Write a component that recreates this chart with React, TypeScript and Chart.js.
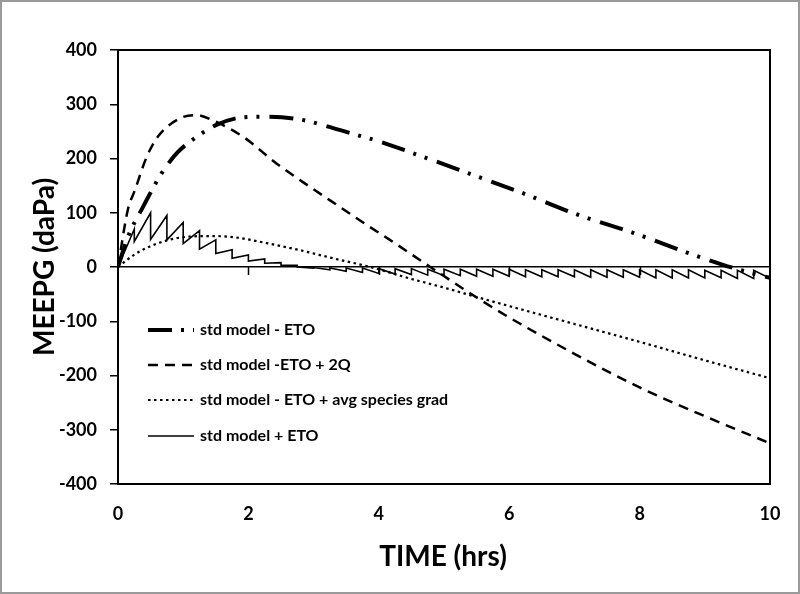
import React, { useEffect, useRef } from 'react';
import { Chart, registerables } from 'chart.js';

Chart.register(...registerables);

// ---- data ----
const X_MIN = 0;
const X_MAX = 10;
const X_STEP = 2;
const Y_MIN = -400;
const Y_MAX = 400;
const Y_STEP = 100;

const LABELS = [
  'std model - ETO',
  'std model -ETO + 2Q',
  'std model - ETO + avg species grad',
  'std model + ETO',
];

// std model - ETO (dash-dot-dot)
const etoX = [0, 0.15, 0.38, 0.67, 0.92, 1.21, 1.51, 1.92, 2.23, 2.79, 3.3, 3.76, 4.02, 4.52, 5.37, 6.21, 7.06, 7.9, 8.74, 9.28, 9.65, 10];
const etoY = [0, 55, 110, 173, 212, 240, 262, 276, 277, 272, 256, 240, 231, 210, 173, 136, 96, 63, 26, 4, -9, -20];

// std model -ETO + 2Q (dashed)
const q2X = [0, 0.15, 0.26, 0.44, 0.61, 0.95, 1.2, 1.46, 1.92, 2.43, 2.94, 3.4, 3.86, 4.17, 4.79, 5.55, 6, 7, 8, 9, 10];
const q2Y = [0, 105, 142, 203, 240, 274, 280, 270, 240, 191, 148, 111, 74, 50, 0, -60, -93, -160, -222, -275, -325];

// std model - ETO + avg species grad (dotted)
const gradX = [0, 0.24, 0.49, 0.75, 1.0, 1.41, 1.77, 2.28, 2.79, 3.3, 3.87, 4.5, 5.0, 5.55, 6, 7, 8, 9, 10];
const gradY = [0, 22, 38, 49, 55, 57, 55, 44, 31, 16, 0, -22, -38, -57, -72, -105, -138, -172, -205];

// std model + ETO (solid sawtooth): value just before and just after each step
const sawT = [0, 0.25, 0.5, 0.75, 1.0, 1.25, 1.5, 1.75, 2.0, 2.25, 2.5, 2.75, 3.0, 3.25, 3.5, 3.75, 4.0, 4.25, 4.5, 4.75, 5.0, 5.25, 5.5, 5.75, 6.0, 6.25, 6.5, 6.75, 7.0, 7.25, 7.5, 7.75, 8.0, 8.25, 8.5, 8.75, 9.0, 9.25, 9.5, 9.75, 10.0];
const sawBefore = [0, 70, 100, 95, 82, 67, 50, 32, 22, 15, 8, 3, -2, -5, -8, -10, -12, -13, -14, -15, -16, -16, -17, -17, -17, -18, -18, -18, -18, -19, -19, -19, -19, -20, -20, -20, -20, -20, -21, -21, -21];
const sawAfter = [0, 47, 51, 50, 43, 33, 25, 16, 11, 7, 3, 0, -1, -2, -2, -2, -3, -3, -3, -4, -4, -4, -4, -4, -4, -5, -5, -5, -5, -5, -5, -5, -5, -5, -5, -5, -6, -6, -6, -6, -21];

const FONT = 'Lato, "Open Sans", sans-serif';

function pts(xs: number[], ys: number[]) {
  return xs.map((x, i) => ({ x, y: ys[i] }));
}

function sawPts() {
  const out: { x: number; y: number }[] = [];
  sawT.forEach((t, i) => {
    out.push({ x: t, y: sawBefore[i] });
    if (sawAfter[i] !== sawBefore[i]) out.push({ x: t, y: sawAfter[i] });
  });
  return out;
}

const framePlugin = {
  id: 'frame',
  beforeDraw(chart: any) {
    const { ctx, width, height } = chart;
    ctx.save();
    ctx.fillStyle = '#ffffff';
    ctx.fillRect(0, 0, width, height);
    ctx.strokeStyle = '#9a9a9a';
    ctx.lineWidth = 2;
    ctx.strokeRect(1, 1, width - 2, height - 2);
    ctx.restore();
  },
  afterDatasetsDraw(chart: any) {
    const { ctx, chartArea } = chart;
    const xs = chart.scales.x;
    const ys = chart.scales.y;
    const y0 = ys.getPixelForValue(0);
    ctx.save();
    // tick marks on the zero line
    ctx.strokeStyle = '#000';
    ctx.lineWidth = 1.5;
    for (let v = X_MIN + X_STEP; v < X_MAX; v += X_STEP) {
      const px = Math.round(xs.getPixelForValue(v)) + 0.5;
      ctx.beginPath();
      ctx.moveTo(px, y0);
      ctx.lineTo(px, y0 + 8);
      ctx.stroke();
    }
    // plot frame
    ctx.lineWidth = 2;
    ctx.strokeRect(chartArea.left, chartArea.top, chartArea.right - chartArea.left, chartArea.bottom - chartArea.top);

    // legend
    const rows = [330, 365, 400, 436];
    chart.data.datasets.forEach((ds: any, i: number) => {
      const y = rows[i];
      ctx.save();
      ctx.strokeStyle = ds.borderColor;
      ctx.lineWidth = ds.borderWidth;
      ctx.setLineDash(ds.borderDash || []);
      ctx.beginPath();
      ctx.moveTo(148, y);
      ctx.lineTo(194, y);
      ctx.stroke();
      ctx.restore();
      ctx.fillStyle = '#000';
      ctx.font = `bold 16px ${FONT}`;
      ctx.textAlign = 'left';
      ctx.textBaseline = 'middle';
      ctx.fillText(ds.label, 200, y);
    });

    // axis titles
    ctx.fillStyle = '#000';
    ctx.font = `bold 28px ${FONT}`;
    ctx.textAlign = 'center';
    ctx.textBaseline = 'middle';
    ctx.fillText('TIME (hrs)', 443, 557);
    ctx.translate(45, 267);
    ctx.rotate(-Math.PI / 2);
    ctx.fillText('MEEPG (daPa)', 0, 0);
    ctx.restore();
  },
};

export default function App() {
  const ref = useRef<HTMLCanvasElement | null>(null);

  useEffect(() => {
    if (!ref.current) return;
    const chart = new Chart(ref.current, {
      type: 'line',
      data: {
        datasets: [
          {
            label: LABELS[0],
            data: pts(etoX, etoY),
            borderColor: '#000',
            borderWidth: 4,
            borderDash: [24, 9, 3, 9, 3, 10],
            pointRadius: 0,
            cubicInterpolationMode: 'monotone',
            fill: false,
          },
          {
            label: LABELS[1],
            data: pts(q2X, q2Y),
            borderColor: '#000',
            borderWidth: 2.5,
            borderDash: [10, 7],
            pointRadius: 0,
            cubicInterpolationMode: 'monotone',
            fill: false,
          },
          {
            label: LABELS[2],
            data: pts(gradX, gradY),
            borderColor: '#000',
            borderWidth: 2.2,
            borderDash: [2.5, 3.5],
            pointRadius: 0,
            cubicInterpolationMode: 'monotone',
            fill: false,
          },
          {
            label: LABELS[3],
            data: sawPts(),
            borderColor: '#000',
            borderWidth: 1.6,
            pointRadius: 0,
            tension: 0,
            fill: false,
          },
        ],
      },
      options: {
        responsive: false,
        animation: false,
        devicePixelRatio: 1,
        layout: { padding: { top: 50, right: 30, left: 0, bottom: 0 } },
        plugins: {
          legend: { display: false },
          tooltip: { enabled: false },
        },
        scales: {
          x: {
            type: 'linear',
            min: X_MIN,
            max: X_MAX,
            afterFit: (s: any) => { s.height = 110; },
            ticks: {
              stepSize: X_STEP,
              color: '#000',
              padding: 19,
              maxRotation: 0,
              font: { family: FONT, size: 18, weight: 'bold' },
            },
            grid: { display: false, drawTicks: false },
            border: { display: true, color: '#000', width: 2 },
          },
          y: {
            type: 'linear',
            min: Y_MIN,
            max: Y_MAX,
            afterFit: (s: any) => { s.width = 118; },
            ticks: {
              stepSize: Y_STEP,
              color: '#000',
              padding: 13,
              font: { family: FONT, size: 18, weight: 'bold' },
            },
            grid: {
              drawOnChartArea: true,
              drawTicks: true,
              tickLength: 8,
              lineWidth: 1.5,
              tickColor: '#000',
              color: (c: any) => (c.tick && c.tick.value === 0 ? '#000' : 'rgba(0,0,0,0)'),
            },
            border: { display: true, color: '#000', width: 2 },
          },
        },
      },
      plugins: [framePlugin],
    } as any);
    return () => chart.destroy();
  }, []);

  return (
    <div style={{ position: 'fixed', left: 0, top: 0, width: 800, height: 594, background: '#fff' }}>
      <canvas ref={ref} width={800} height={594} style={{ display: 'block', width: 800, height: 594 }} />
    </div>
  );
}
